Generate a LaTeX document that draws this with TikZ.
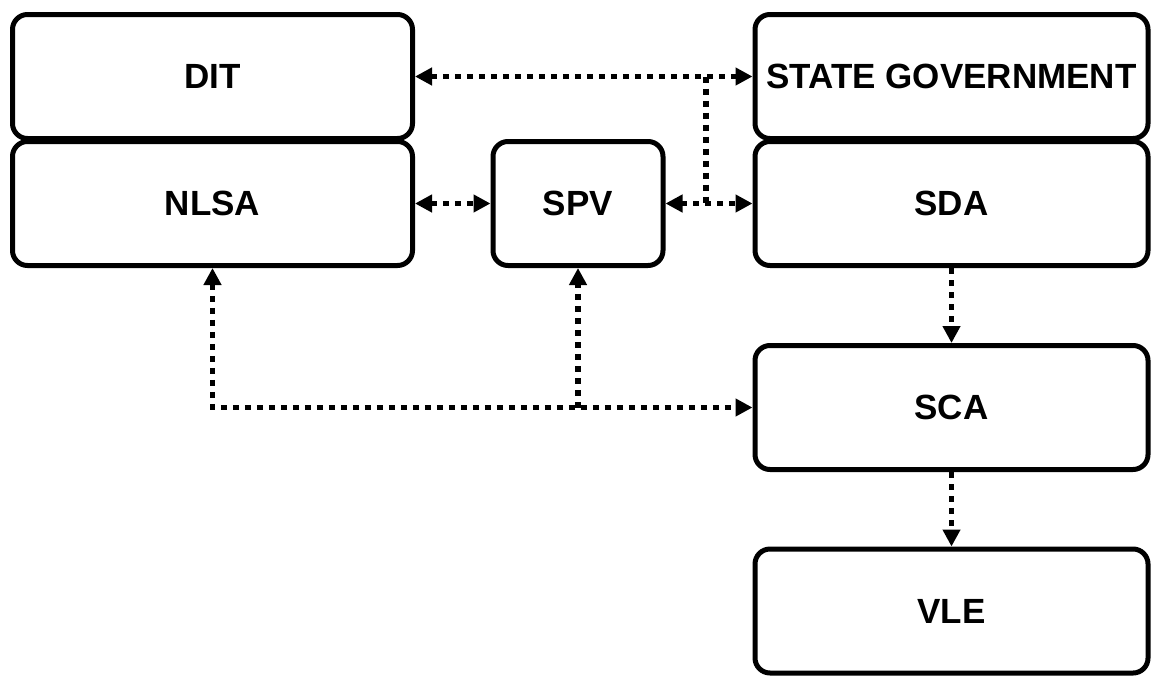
\documentclass[tikz,border=0pt]{standalone}
\usepackage{fontspec}
\setmainfont{Liberation Sans}
\usepackage{tikz}
\usetikzlibrary{calc,arrows.meta}
\definecolor{ink}{HTML}{000000}
\tikzset{
  box/.style={draw=ink, line width=5pt, rounded corners=15pt, inner sep=0pt,
    minimum height=124pt, font=\fontsize{35}{40}\selectfont\bfseries},
  wide/.style={box, minimum width=400pt},
  small/.style={box, minimum width=170pt},
  link/.style={draw=ink, line width=5.5pt, dash pattern=on 6pt off 6pt,
    -{Triangle[length=17pt,width=17pt]}},
  dlink/.style={link, {Triangle[length=17pt,width=17pt]}-{Triangle[length=17pt,width=17pt]}}
}
\begin{document}
\begin{tikzpicture}[x=1pt, y=-1pt]
  \useasboundingbox (0,0) rectangle (1155,675);

  \node[wide] (DIT)  at (212.5,76.5) {DIT};
  \node[wide] (NLSA) at (212.5,203.5) {NLSA};
  \node[small] (SPV) at (578,203.5) {SPV};
  \node[box, minimum width=393pt] (SG)  at (951.5,76.5) {STATE GOVERNMENT};
  \node[box, minimum width=393pt] (SDA) at (951.5,203.5) {SDA};
  \node[box, minimum width=393pt] (SCA) at (951.5,407.5) {SCA};
  \node[box, minimum width=393pt] (VLE) at (951.5,611) {VLE};

  % junction between the two top links
  \coordinate (jt) at (706,76.5);
  \coordinate (jb) at (706,203.5);

  \draw[dlink] (DIT.east) -- (SG.west);
  \draw[dlink] (NLSA.east) -- (SPV.west);
  \draw[dlink] (SPV.east) -- (SDA.west);
  \draw[link, -] (jt) -- (jb);

  \draw[dlink] (NLSA.south) |- (SCA.west);
  \draw[link] (SPV.south |- SCA.west) -- (SPV.south);

  \draw[link] (SDA.south) -- (SCA.north);
  \draw[link] (SCA.south) -- (VLE.north);
\end{tikzpicture}
\end{document}
